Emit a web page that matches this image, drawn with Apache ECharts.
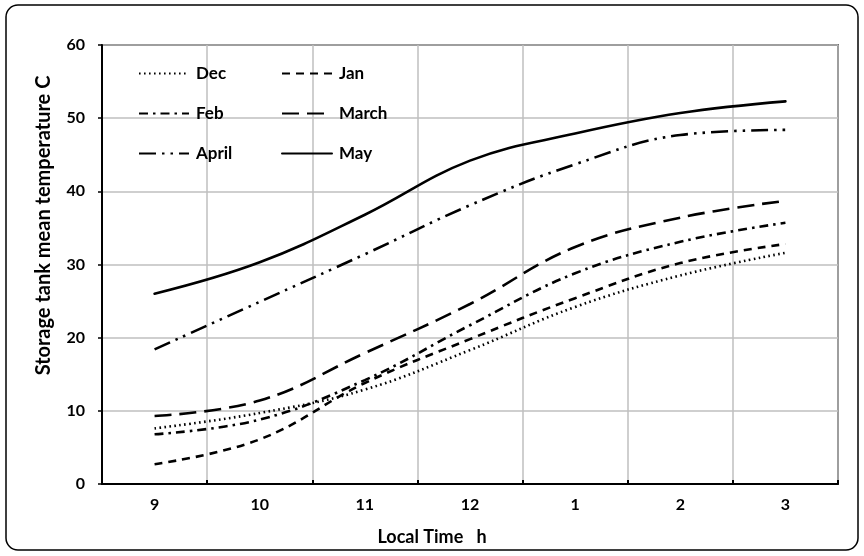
<!DOCTYPE html>
<html>
<head>
<meta charset="utf-8">
<script src="https://cdn.jsdelivr.net/npm/echarts@6/dist/echarts.min.js"></script>
<style>
  html, body { margin: 0; padding: 0; background: #fff; }
  #chart { width: 864px; height: 556px; }
</style>
</head>
<body>
<div id="chart"></div>
<script>
// Local time of day (hours)
const hours = ['9', '10', '11', '12', '1', '2', '3'];

// Storage tank mean temperature (°C) per month
const dec   = [7.6, 9.7, 12.9, 18.3, 24.2, 28.5, 31.6];
const jan   = [2.7, 6.1, 13.8, 19.8, 25.4, 30.2, 32.8];
const feb   = [6.8, 8.8, 14.2, 21.7, 28.8, 33.1, 35.7];
const march = [9.3, 11.4, 17.9, 24.6, 32.4, 36.4, 38.7];
const april = [18.4, 24.9, 31.4, 38.1, 43.7, 47.7, 48.4];
const may   = [26.0, 30.3, 36.8, 44.2, 47.9, 50.7, 52.3];

const yTicks = { min: 0, max: 60, step: 10 };

const FONT = 'Lato, "Liberation Sans", sans-serif';

function line(name, data, type) {
  return {
    name: name,
    type: 'line',
    data: data,
    smooth: 0.4,
    symbol: 'none',
    lineStyle: { color: '#000', width: 2.6, type: type, cap: type === 'solid' ? 'round' : 'butt' },
    itemStyle: { color: '#000' },
    emphasis: { disabled: true }
  };
}

const legendText = { fontFamily: FONT, fontWeight: 'bold', fontSize: 17, color: '#000', padding: [0, 0, 0, 2] };
const legendBase = {
  orient: 'vertical', top: 65, padding: 0,
  itemWidth: 50, itemHeight: 18, itemGap: 23,
  itemStyle: { opacity: 0 },
  textStyle: legendText
};

const chart = echarts.init(document.getElementById('chart'), null, { renderer: 'canvas' });
chart.setOption({
  animation: false,
  backgroundColor: '#fff',
  graphic: [{
    type: 'rect',
    shape: { x: 6, y: 5, width: 852, height: 545, r: 12 },
    style: { fill: 'none', stroke: '#000', lineWidth: 1.5 },
    z: 100
  }],
  grid: {
    left: 102, right: 26, top: 45, bottom: 72,
    show: true, borderColor: '#000', borderWidth: 1.5
  },
  legend: [
    Object.assign({ left: 138, data: ['Dec', 'Feb', 'April'] }, legendBase),
    Object.assign({ left: 281, data: ['Jan', 'March', 'May'] }, legendBase)
  ],
  xAxis: {
    type: 'category',
    data: hours,
    boundaryGap: true,
    name: 'Local Time   h',
    nameLocation: 'middle',
    nameGap: 44,
    nameTextStyle: { fontFamily: FONT, fontWeight: 'bold', fontSize: 18, color: '#000', padding: [0, 76, 0, 0] },
    axisLine: { lineStyle: { color: '#000', width: 2 } },
    axisTick: { show: true, inside: true, length: 4, lineStyle: { color: '#000', width: 2 } },
    axisLabel: { fontFamily: FONT, fontWeight: 'bold', fontSize: 16, color: '#000', margin: 13 },
    splitLine: { show: true, interval: 0, lineStyle: { color: '#bfbfbf', width: 1.5 } }
  },
  yAxis: {
    type: 'value',
    min: yTicks.min, max: yTicks.max, interval: yTicks.step,
    name: 'Storage tank mean temperature C',
    nameLocation: 'middle',
    nameGap: 48,
    nameTextStyle: { fontFamily: FONT, fontWeight: 'bold', fontSize: 20, color: '#000', padding: [0, 0, 0, 78] },
    axisLine: { show: true, lineStyle: { color: '#000', width: 2 } },
    axisTick: { show: true, length: 4, lineStyle: { color: '#000', width: 1.5 } },
    axisLabel: { fontFamily: FONT, fontWeight: 'bold', fontSize: 16, color: '#000', margin: 17 },
    splitLine: { show: true, lineStyle: { color: '#bfbfbf', width: 1.5 } }
  },
  series: [
    line('Dec', dec, [1.6, 3.4]),
    line('Jan', jan, [8, 6]),
    line('Feb', feb, [9, 5, 2.5, 5]),
    line('March', march, [17, 8]),
    line('April', april, [17, 6, 2.5, 6, 2.5, 6]),
    line('May', may, 'solid')
  ]
});
</script>
</body>
</html>
